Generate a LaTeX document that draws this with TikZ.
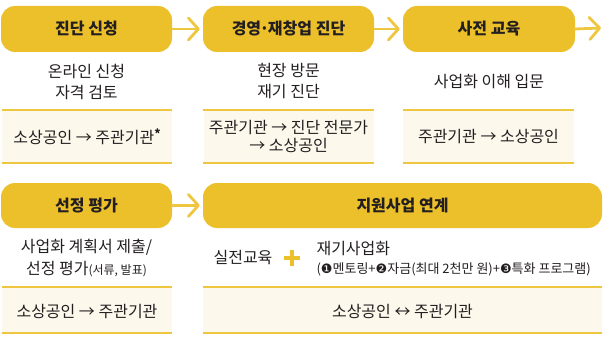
\documentclass[tikz,border=0pt]{standalone}
\usepackage{fontspec}
\setmainfont{Noto Sans CJK KR}
\newfontfamily\symfont{DejaVu Sans}
\usetikzlibrary{arrows.meta}
\definecolor{gold}{HTML}{EBC02B}
\definecolor{arrowgold}{HTML}{EFC640}
\definecolor{cream}{HTML}{FDF8EC}
\definecolor{ink}{HTML}{231F20}
\tikzset{
  head/.style={fill=gold, rounded corners=14pt, inner sep=0pt, minimum height=46pt,
    text=ink, font=\fontsize{16}{18}\selectfont\bfseries},
  band/.style={fill=cream, inner sep=0pt},
  rule/.style={draw=arrowgold, line width=1.6pt},
  body/.style={text=ink, align=center, font=\fontsize{16}{21}\selectfont},
  flow/.style={draw=arrowgold, line width=2.8pt, line cap=round,
    -{Straight Barb[round, length=10pt, width=22pt]}},
}
\begin{document}
\begin{tikzpicture}[x=1pt, y=-1pt]
  \useasboundingbox (0,0) rectangle (606,337);

  % 1행 단계 상자
  \node[head, minimum width=171pt] (h1) at (86.5,29) {진단 신청};
  \node[head, minimum width=171pt] (h2) at (288.5,29) {경영{\kern-1.5pt·\kern-1.5pt}재창업 진단};
  \node[head, minimum width=172pt] (h3) at (489,29) {사전 교육};
  \coordinate (hend) at (601,28);

  \draw[flow] (h1.east) -- ([xshift=-3pt]h2.west);
  \draw[flow] (h2.east) -- ([xshift=-3pt]h3.west);
  \draw[flow] (h3.east) -- (hend);

  % 1행 설명
  \node[body] (t1) at (86.5,81.5) {온라인 신청\\자격 검토};
  \node[body] (t2) at (288.5,81.5) {현장 방문\\재기 진단};
  \node[body] (t3) at (489,81.5) {사업화 이해 입문};

  % 1행 주체 띠
  \node[band, minimum width=170pt, minimum height=53pt] (b1) at (87,136.5) {};
  \node[band, minimum width=170pt, minimum height=53pt] (b2) at (288.5,136.5) {};
  \node[band, minimum width=171pt, minimum height=53pt] (b3) at (488.5,136.5) {};
  \node[body] at (b1) {소상공인 → 주관기관\raisebox{5pt}{\fontsize{12}{12}\selectfont\bfseries *}};
  \node[body, font=\fontsize{16}{18}\selectfont] at (b2) {주관기관 → 진단 전문가\\→ 소상공인};
  \node[body] at (b3) {주관기관 → 소상공인};

  % 2행 단계 상자
  \node[head, minimum width=171pt, minimum height=45pt] (g1) at (86.5,205.5) {선정 평가};
  \node[head, minimum width=399pt, minimum height=45pt] (g2) at (402.5,205.5) {지원사업 연계};
  \draw[flow] (g1.east) -- ([xshift=-3pt]g2.west);

  % 2행 설명
  \node[body, font=\fontsize{16}{22}\selectfont] (s1) at (86.5,258)
    {사업화 계획서 제출/\\선정 평가{\fontsize{12}{13}\selectfont(서류, 발표)}};
  \node[body] (s2) at (243,258) {실전교육};
  \coordinate (plus) at (292,258);
  \draw[gold, line width=3.6pt] ([xshift=-8pt]plus) -- ([xshift=8pt]plus)
    ([yshift=-8pt]plus) -- ([yshift=8pt]plus);
  \node[body, anchor=west] (s3) at (313,249) {재기사업화};
  \node[body, anchor=west, font=\fontsize{13}{14}\selectfont] (s4) at (313,269)
    {({\symfont ❶}멘토링+{\symfont ❷}자금(최대 2천만 원)+{\symfont ❸}특화 프로그램)};

  % 2행 주체 띠
  \node[band, minimum width=170pt, minimum height=46pt] (c1) at (87,310) {};
  \node[band, minimum width=399pt, minimum height=46pt] (c2) at (402.5,310) {};
  \node[body] at (87,312) {소상공인 → 주관기관};
  \node[body] at (402.5,312) {소상공인 ↔ 주관기관};

  \foreach \b in {b1,b2,b3,c1,c2}
    \draw[rule] (\b.north west) -- (\b.north east) (\b.south west) -- (\b.south east);
\end{tikzpicture}
\end{document}
